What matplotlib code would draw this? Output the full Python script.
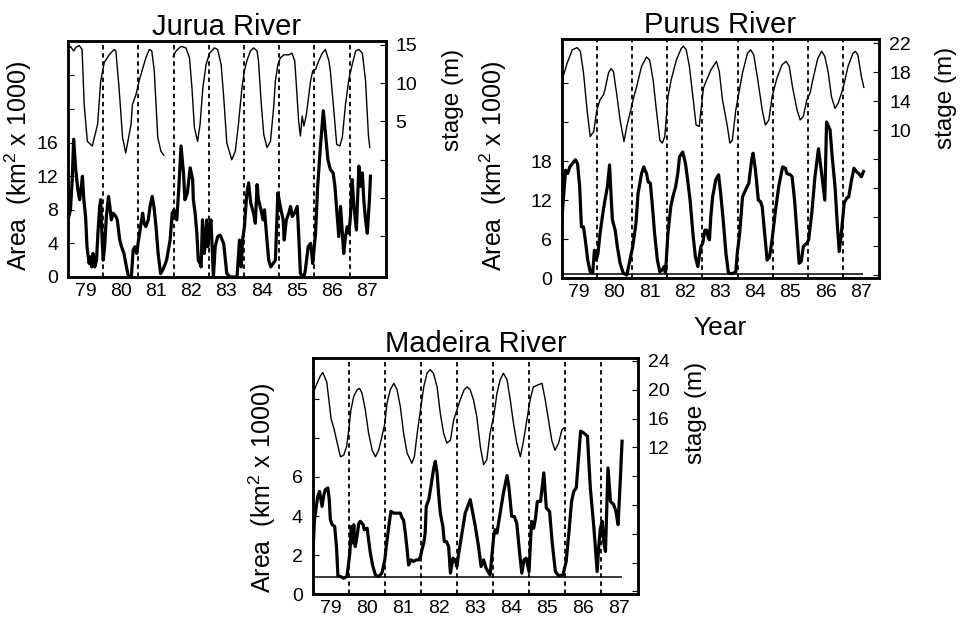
import numpy as np
import matplotlib
matplotlib.use("Agg")
import matplotlib.pyplot as plt

plt.rcParams["font.family"] = ["Liberation Sans", "DejaVu Sans"]
plt.rcParams["mathtext.fontset"] = "custom"
plt.rcParams["mathtext.rm"] = "Liberation Sans"
plt.rcParams["mathtext.it"] = "Liberation Sans"

# ---- data (decimal year, 1900s) --------------------------------------------
years = [79, 80, 81, 82, 83, 84, 85, 86, 87]
year_breaks = [80, 81, 82, 83, 84, 85, 86, 87]

jurua_area_yr = [79.00, 79.07, 79.12, 79.16, 79.22, 79.28, 79.33, 79.38, 79.41, 79.45,
                 79.50, 79.54, 79.60, 79.64, 79.67, 79.71, 79.76, 79.81, 79.85, 79.90,
                 79.93, 79.97, 80.00, 80.04, 80.09, 80.15, 80.19, 80.23, 80.28, 80.36,
                 80.40, 80.47, 80.52, 80.59, 80.66, 80.72, 80.80, 80.85, 80.90, 80.95,
                 80.99, 81.06, 81.12, 81.16, 81.21, 81.28, 81.33, 81.39, 81.44, 81.50,
                 81.56, 81.63, 81.71, 81.80, 81.90, 81.96, 82.01, 82.09, 82.15, 82.21,
                 82.28, 82.32, 82.39, 82.47, 82.54, 82.56, 82.61, 82.66, 82.70, 82.75,
                 82.78, 82.82, 82.87, 82.89, 82.94, 82.97, 83.02, 83.06, 83.10, 83.13,
                 83.18, 83.25, 83.32, 83.42, 83.51, 83.61, 83.80, 83.87, 83.92, 83.96,
                 84.01, 84.08, 84.13, 84.19, 84.27, 84.32, 84.37, 84.41, 84.48, 84.54,
                 84.58, 84.65, 84.70, 84.76, 84.89, 84.96, 85.03, 85.11, 85.14, 85.20,
                 85.27, 85.32, 85.37, 85.43, 85.51, 85.55, 85.60, 85.70, 85.74, 85.82,
                 85.89, 85.95, 86.03, 86.09, 86.17, 86.25, 86.31, 86.38, 86.45, 86.53,
                 86.58, 86.64, 86.69, 86.74, 86.79, 86.83, 86.88, 86.93, 86.98, 87.02,
                 87.07, 87.12, 87.19, 87.26, 87.31, 87.36, 87.40, 87.45, 87.50, 87.56,
                 87.59]
jurua_area = [6.8, 8.0, 11.6, 16.4, 12.8, 10.4, 9.2, 10.8, 12.0, 9.2,
              7.2, 3.6, 1.6, 2.4, 1.2, 2.8, 1.2, 2.0, 5.2, 8.4,
              9.2, 4.4, 2.0, 3.6, 7.2, 9.6, 8.4, 6.8, 7.6, 7.2,
              6.8, 4.4, 3.6, 2.8, 1.2, 0.0, 0.0, 3.2, 3.6, 2.8,
              4.0, 6.0, 7.6, 6.4, 6.0, 6.8, 8.4, 9.6, 8.4, 6.0,
              2.8, 0.4, 1.0, 2.0, 4.4, 7.6, 8.0, 6.8, 10.8, 15.6,
              12.4, 9.2, 10.0, 13.0, 11.6, 9.2, 7.6, 5.2, 2.0, 1.6,
              1.2, 6.8, 2.8, 3.6, 6.8, 3.6, 6.0, 6.8, 2.8, 0.0,
              3.6, 4.8, 5.0, 4.0, 0.4, 0.0, 0.0, 4.4, 1.2, 4.4,
              6.0, 10.0, 11.2, 8.8, 7.6, 6.4, 11.0, 9.2, 8.0, 6.8,
              8.0, 4.4, 2.0, 1.2, 2.0, 10.0, 8.4, 6.8, 4.4, 6.8,
              7.6, 8.4, 7.2, 7.6, 8.4, 5.2, 0.4, 0.0, 0.8, 3.6,
              4.0, 1.6, 5.2, 10.8, 15.6, 19.8, 17.2, 14.0, 12.8, 12.4,
              10.8, 7.6, 4.8, 8.4, 5.2, 2.8, 4.8, 6.0, 5.2, 7.2,
              11.6, 8.4, 5.6, 13.2, 10.8, 12.4, 9.2, 6.8, 5.2, 9.2,
              12.0]
jurua_stage_yr = [79.00, 79.07, 79.16, 79.23, 79.32, 79.40, 79.46, 79.55, 79.69, 79.84,
                  79.93, 80.03, 80.17, 80.31, 80.36, 80.45, 80.55, 80.64, 80.79, 80.83,
                  80.93, 81.02, 81.21, 81.31, 81.38, 81.45, 81.55, 81.64, 81.72, 81.85,
                  81.99, 82.07, 82.21, 82.35, 82.45, 82.52, 82.59, 82.68, 82.75, 82.83,
                  82.92, 83.02, 83.16, 83.25, 83.35, 83.42, 83.51, 83.65, 83.75, 83.84,
                  83.94, 84.01, 84.08, 84.18, 84.27, 84.37, 84.41, 84.49, 84.56, 84.65,
                  84.75, 84.84, 84.89, 84.96, 85.03, 85.13, 85.27, 85.36, 85.44, 85.49,
                  85.55, 85.60, 85.65, 85.70, 85.77, 85.89, 85.95, 86.03, 86.12, 86.22,
                  86.31, 86.41, 86.45, 86.55, 86.63, 86.72, 86.79, 86.88, 86.98, 87.07,
                  87.17, 87.26, 87.36, 87.45, 87.53, 87.57]
jurua_stage = [14.4, 14.8, 14.2, 14.7, 14.9, 14.4, 7.2, 2.4, 1.8, 4.6,
               10.3, 12.7, 13.7, 14.4, 14.2, 9.4, 2.9, 0.9, 4.6, 7.2,
               8.5, 10.3, 13.3, 14.4, 14.2, 11.6, 2.9, 1.1, 0.6, np.nan,
               13.5, 14.2, 14.8, 14.6, 13.3, 9.4, 4.2, 2.4, 4.6, 9.4,
               12.4, 13.9, 14.6, 14.4, 12.4, 8.3, 2.2, 0.0, 1.1, 4.6,
               9.4, 11.6, 12.9, 14.2, 14.6, 14.2, 12.9, 7.2, 3.3, 1.6,
               2.4, 6.8, 10.3, 12.4, 13.3, 13.7, 13.7, 13.9, 12.9, 9.4,
               5.0, 3.1, 5.7, 4.4, 5.9, 10.3, 11.6, 11.8, 12.9, 13.9,
               14.4, 12.9, 11.6, 6.4, 2.0, 1.8, 2.9, 7.2, 10.6, 12.4,
               14.2, 14.4, 13.9, 10.3, 3.3, 1.6]

purus_area_yr = [79.01, 79.11, 79.17, 79.23, 79.30, 79.39, 79.45, 79.51, 79.56, 79.62,
                 79.67, 79.74, 79.81, 79.88, 79.93, 79.98, 80.03, 80.09, 80.17, 80.23,
                 80.30, 80.36, 80.39, 80.44, 80.52, 80.58, 80.66, 80.75, 80.85, 80.94,
                 81.02, 81.11, 81.17, 81.27, 81.33, 81.41, 81.46, 81.52, 81.58, 81.64,
                 81.72, 81.79, 81.86, 81.91, 81.95, 82.02, 82.10, 82.16, 82.24, 82.30,
                 82.35, 82.44, 82.52, 82.58, 82.65, 82.73, 82.80, 82.87, 82.91, 82.96,
                 83.01, 83.07, 83.12, 83.16, 83.20, 83.24, 83.29, 83.38, 83.46, 83.52,
                 83.59, 83.67, 83.74, 83.85, 83.95, 83.99, 84.06, 84.14, 84.23, 84.32,
                 84.40, 84.44, 84.51, 84.59, 84.65, 84.70, 84.77, 84.84, 84.91, 84.98,
                 85.08, 85.17, 85.28, 85.36, 85.40, 85.50, 85.55, 85.62, 85.69, 85.75,
                 85.81, 85.87, 85.97, 86.02, 86.11, 86.20, 86.30, 86.39, 86.48, 86.53,
                 86.63, 86.69, 86.77, 86.84, 86.89, 86.95, 87.03, 87.10, 87.16, 87.24,
                 87.31, 87.38, 87.44, 87.52, 87.58]
purus_area = [9.5, 16.6, 16.1, 17.1, 17.6, 18.2, 17.6, 14.1, 7.9, 7.9,
              5.9, 2.8, 1.0, 0.8, 4.3, 2.8, 3.8, 6.9, 10.0, 12.0,
              14.1, 17.4, 14.1, 9.0, 7.4, 4.9, 2.3, 0.8, 0.5, 2.8,
              4.9, 8.4, 13.0, 16.1, 17.1, 16.1, 14.8, 14.6, 11.0, 6.9,
              2.8, 1.0, 1.3, 1.8, 0.8, 6.9, 11.0, 12.5, 14.1, 16.1,
              18.7, 19.4, 17.6, 15.1, 12.0, 6.9, 3.3, 1.8, 3.3, 4.9,
              5.4, 7.4, 7.4, 6.4, 5.9, 9.5, 12.5, 15.1, 15.9, 13.0,
              9.0, 3.8, 0.8, 0.7, 1.0, 3.8, 6.9, 12.5, 13.6, 14.6,
              18.2, 19.2, 16.6, 12.0, 11.8, 11.0, 6.9, 2.8, 3.3, 5.9,
              10.5, 14.1, 17.1, 16.9, 16.1, 15.9, 15.6, 12.0, 6.9, 2.3,
              2.6, 4.9, 5.4, 5.9, 10.0, 15.6, 19.9, 16.1, 12.0, 24.0,
              22.8, 18.7, 14.1, 7.9, 4.1, 6.9, 11.5, 12.3, 12.5, 15.1,
              16.9, 16.4, 16.1, 15.6, 16.4]
purus_stage_yr = [79.01, 79.15, 79.30, 79.44, 79.53, 79.62, 79.72, 79.81, 79.91, 80.00,
                  80.09, 80.19, 80.23, 80.33, 80.40, 80.47, 80.56, 80.66, 80.77, 80.85,
                  80.94, 81.03, 81.13, 81.27, 81.41, 81.50, 81.60, 81.69, 81.79, 81.86,
                  81.93, 82.02, 82.11, 82.26, 82.40, 82.46, 82.54, 82.63, 82.73, 82.82,
                  82.91, 82.96, 83.03, 83.10, 83.24, 83.40, 83.48, 83.57, 83.71, 83.78,
                  83.85, 83.95, 84.14, 84.28, 84.37, 84.46, 84.56, 84.70, 84.79, 84.89,
                  84.98, 85.12, 85.26, 85.38, 85.47, 85.56, 85.69, 85.78, 85.87, 85.97,
                  86.06, 86.16, 86.28, 86.39, 86.48, 86.58, 86.67, 86.77, 86.86, 87.00,
                  87.14, 87.28, 87.35, 87.42, 87.52, 87.59]
purus_stage = [16.9, 19.2, 21.1, 21.4, 20.9, 17.9, 12.8, 9.1, 9.8, 12.8,
               14.2, 14.9, 15.6, 17.9, 18.5, 18.1, 15.1, 11.4, 8.4, 10.5,
               12.3, 14.2, 16.0, 18.8, 20.1, 19.7, 16.9, 12.8, 8.6, 8.2,
               9.1, 14.6, 16.9, 19.7, 21.3, 21.6, 21.1, 18.8, 14.6, 10.7,
               10.5, 12.8, 15.8, 16.7, 18.3, 19.5, 18.1, 14.2, 10.5, 8.2,
               8.6, 12.8, 17.9, 20.6, 21.1, 20.4, 17.4, 12.8, 10.7, 11.4,
               14.6, 17.2, 19.0, 19.5, 18.8, 16.0, 12.8, 11.4, 11.9, 14.2,
               15.1, 17.4, 19.9, 20.9, 20.2, 17.9, 14.6, 13.0, 13.7, 15.8,
               18.8, 20.6, 20.9, 20.4, 17.4, 15.9]
purus_base = 0.7

madeira_area_yr = [79.01, 79.05, 79.10, 79.14, 79.19, 79.23, 79.26, 79.31, 79.35, 79.42,
                   79.46, 79.49, 79.54, 79.61, 79.66, 79.70, 79.77, 79.86, 79.95, 80.03,
                   80.07, 80.10, 80.14, 80.18, 80.23, 80.28, 80.32, 80.40, 80.43, 80.51,
                   80.55, 80.60, 80.67, 80.74, 80.83, 80.92, 81.00, 81.04, 81.11, 81.17,
                   81.25, 81.34, 81.43, 81.48, 81.52, 81.57, 81.62, 81.66, 81.73, 81.80,
                   81.87, 81.94, 81.99, 82.03, 82.08, 82.12, 82.15, 82.22, 82.28, 82.35,
                   82.40, 82.45, 82.49, 82.54, 82.61, 82.65, 82.71, 82.77, 82.82, 82.89,
                   82.95, 83.00, 83.05, 83.14, 83.23, 83.37, 83.44, 83.51, 83.60, 83.67,
                   83.74, 83.81, 83.92, 84.02, 84.06, 84.11, 84.20, 84.29, 84.39, 84.44,
                   84.52, 84.59, 84.66, 84.74, 84.80, 84.86, 84.92, 85.00, 85.07, 85.13,
                   85.18, 85.23, 85.32, 85.41, 85.48, 85.57, 85.64, 85.73, 85.83, 85.94,
                   86.03, 86.10, 86.18, 86.24, 86.31, 86.38, 86.43, 86.51, 86.62, 86.70,
                   86.80, 86.89, 86.93, 86.98, 87.03, 87.07, 87.12, 87.19, 87.26, 87.35,
                   87.41, 87.47, 87.53, 87.58]
madeira_area = [2.27, 3.81, 4.50, 5.01, 5.26, 4.84, 4.50, 5.09, 5.35, 5.44,
                4.84, 3.81, 3.56, 3.47, 2.44, 0.94, 0.91, 0.82, 0.91, 2.10,
                3.47, 2.62, 3.56, 2.44, 2.96, 3.64, 3.73, 3.56, 3.30, 3.38,
                2.79, 2.10, 1.42, 0.99, 0.91, 1.08, 1.76, 2.44, 3.47, 4.24,
                4.15, 4.15, 4.15, 3.90, 3.81, 3.13, 2.27, 1.50, 1.76, 1.68,
                1.76, 1.76, 1.93, 2.27, 2.62, 3.13, 4.50, 4.84, 5.52, 6.38,
                6.80, 6.21, 5.18, 4.15, 3.47, 2.70, 2.70, 2.44, 1.08, 1.85,
                1.76, 1.42, 2.10, 3.13, 4.15, 4.84, 4.15, 3.47, 2.44, 1.42,
                1.76, 1.33, 0.99, 2.96, 3.30, 3.13, 4.15, 5.18, 6.07, 5.52,
                3.98, 3.98, 3.64, 2.10, 1.08, 1.76, 1.85, 1.16, 3.73, 3.38,
                3.90, 4.75, 4.75, 6.21, 4.41, 4.24, 2.70, 1.16, 0.94, 0.99,
                1.68, 3.04, 4.75, 5.26, 5.44, 7.15, 8.34, 8.26, 8.09, 5.44,
                3.38, 1.16, 2.36, 3.38, 3.73, 2.70, 2.19, 6.46, 4.75, 4.58,
                4.24, 3.56, 5.78, 7.83]
madeira_stage_yr = [79.01, 79.12, 79.21, 79.28, 79.39, 79.51, 79.60, 79.68, 79.77, 79.86,
                    79.94, 80.00, 80.06, 80.14, 80.23, 80.30, 80.37, 80.46, 80.55, 80.65,
                    80.74, 80.83, 80.92, 81.00, 81.06, 81.15, 81.25, 81.34, 81.43, 81.52,
                    81.62, 81.75, 81.82, 81.91, 81.99, 82.08, 82.17, 82.26, 82.35, 82.45,
                    82.54, 82.63, 82.72, 82.82, 82.91, 83.00, 83.09, 83.20, 83.28, 83.37,
                    83.46, 83.55, 83.65, 83.74, 83.83, 83.92, 84.02, 84.11, 84.20, 84.29,
                    84.39, 84.48, 84.57, 84.66, 84.76, 84.85, 84.94, 85.03, 85.12, 85.26,
                    85.36, 85.45, 85.54, 85.63, 85.72, 85.82, 85.91, 85.96]
madeira_stage = [19.5, 20.9, 21.9, 22.4, 21.1, 16.0, 14.4, 12.6, 10.7, 10.9,
                 12.1, 14.4, 17.2, 19.1, 20.0, 20.2, 19.5, 17.2, 14.0, 11.6,
                 10.7, 11.6, 13.5, 15.3, 18.1, 20.0, 20.9, 20.0, 17.7, 14.0,
                 11.2, 9.8, 10.7, 14.4, 17.2, 20.4, 22.3, 22.8, 22.3, 20.4,
                 16.7, 14.0, 12.6, 13.0, 15.8, 17.2, 18.6, 20.0, 20.4, 20.0,
                 18.6, 16.3, 12.1, 9.6, 10.3, 14.0, 16.3, 19.5, 21.4, 22.3,
                 21.4, 18.6, 15.3, 12.6, 10.7, 13.0, 15.8, 18.6, 20.4, 20.7,
                 20.9, 18.6, 15.8, 13.0, 11.6, 12.6, 14.4, 14.7]
madeira_base = 0.9

# ---- layout (figure fractions) ----------------------------------------------
panels = [
    dict(name="Jurua River", rect=[0.0706, 0.5561, 0.3302, 0.3782],
         area=(jurua_area_yr, jurua_area), stage=(jurua_stage_yr, jurua_stage),
         base=None, aylim=(0, 28.1), aticks=range(0, 25, 4), amax=16,
         sylim=(-15.3, 15.5), sticks=range(-10, 16, 5), smin=5,
         alab=(-0.107, 0.47), slab=(1.176, 0.75), xlabel=False),
    dict(name="Purus River", rect=[0.5833, 0.554, 0.3298, 0.383],
         area=(purus_area_yr, purus_area), stage=(purus_stage_yr, purus_stage),
         base=purus_base, aylim=(0, 36.7), aticks=range(0, 31, 6), amax=18,
         sylim=(-10.5, 22.55), sticks=range(-10, 23, 4), smin=10,
         alab=(-0.166, 0.47), slab=(1.175, 0.755), xlabel=True),
    dict(name="Madeira River", rect=[0.3247, 0.0476, 0.3381, 0.3792],
         area=(madeira_area_yr, madeira_area), stage=(madeira_stage_yr, madeira_stage),
         base=madeira_base, aylim=(0, 12.1), aticks=range(0, 11, 2), amax=6,
         sylim=(-8.4, 24.46), sticks=range(-8, 25, 4), smin=12,
         alab=(-0.107, 0.45), slab=(1.143, 0.766), xlabel=False),
]


def draw(fig, p):
    ax = fig.add_axes(p["rect"])
    ax2 = ax.twinx()
    yr, a = p["area"]
    ax.plot(yr, a, color="k", lw=2.3, solid_joinstyle="round")
    if p["base"] is not None:
        ax.hlines(p["base"], yr[0], yr[-1], color="k", lw=1.1)
    syr, s = p["stage"]
    ax2.plot(syr, s, color="k", lw=1.0)
    for b in year_breaks:
        ax.axvline(b, color="k", lw=1.3, ls=(0, (2.5, 2.0)))

    ax.set_xlim(79, 88.03)
    ax.set_xticks([y + 0.5 for y in years])
    ax.set_xticklabels([str(y) for y in years], fontsize=14)
    ax.tick_params(axis="x", length=0, pad=4)

    ax.set_ylim(*p["aylim"])
    ax.set_yticks(list(p["aticks"]))
    ax.set_yticklabels([str(t) if t <= p["amax"] else "" for t in p["aticks"]],
                       fontsize=14)
    ax.tick_params(axis="y", direction="in", length=4, pad=7)
    ax2.set_ylim(*p["sylim"])
    ax2.set_yticks(list(p["sticks"]))
    ax2.set_yticklabels([str(t) if t >= p["smin"] else "" for t in p["sticks"]],
                        fontsize=14)
    ax2.tick_params(axis="y", direction="in", length=4, pad=7)

    for sp in list(ax.spines.values()) + list(ax2.spines.values()):
        sp.set_linewidth(1.8)

    ax.set_title(p["name"], fontsize=21, pad=4)
    ax.set_ylabel("Area  (km$^2$ x 1000)", fontsize=18)
    ax.yaxis.set_label_coords(*p["alab"])
    ax2.set_ylabel("stage (m)", fontsize=17.5)
    ax2.yaxis.set_label_coords(*p["slab"])
    if p["xlabel"]:
        ax.set_xlabel("Year", fontsize=19, labelpad=11)


def main():
    fig = plt.figure(figsize=(9.63, 6.24), dpi=100)
    for p in panels:
        draw(fig, p)
    fig.savefig("out.png", dpi=100, facecolor="white")
    plt.close(fig)


if __name__ == "__main__":
    main()
